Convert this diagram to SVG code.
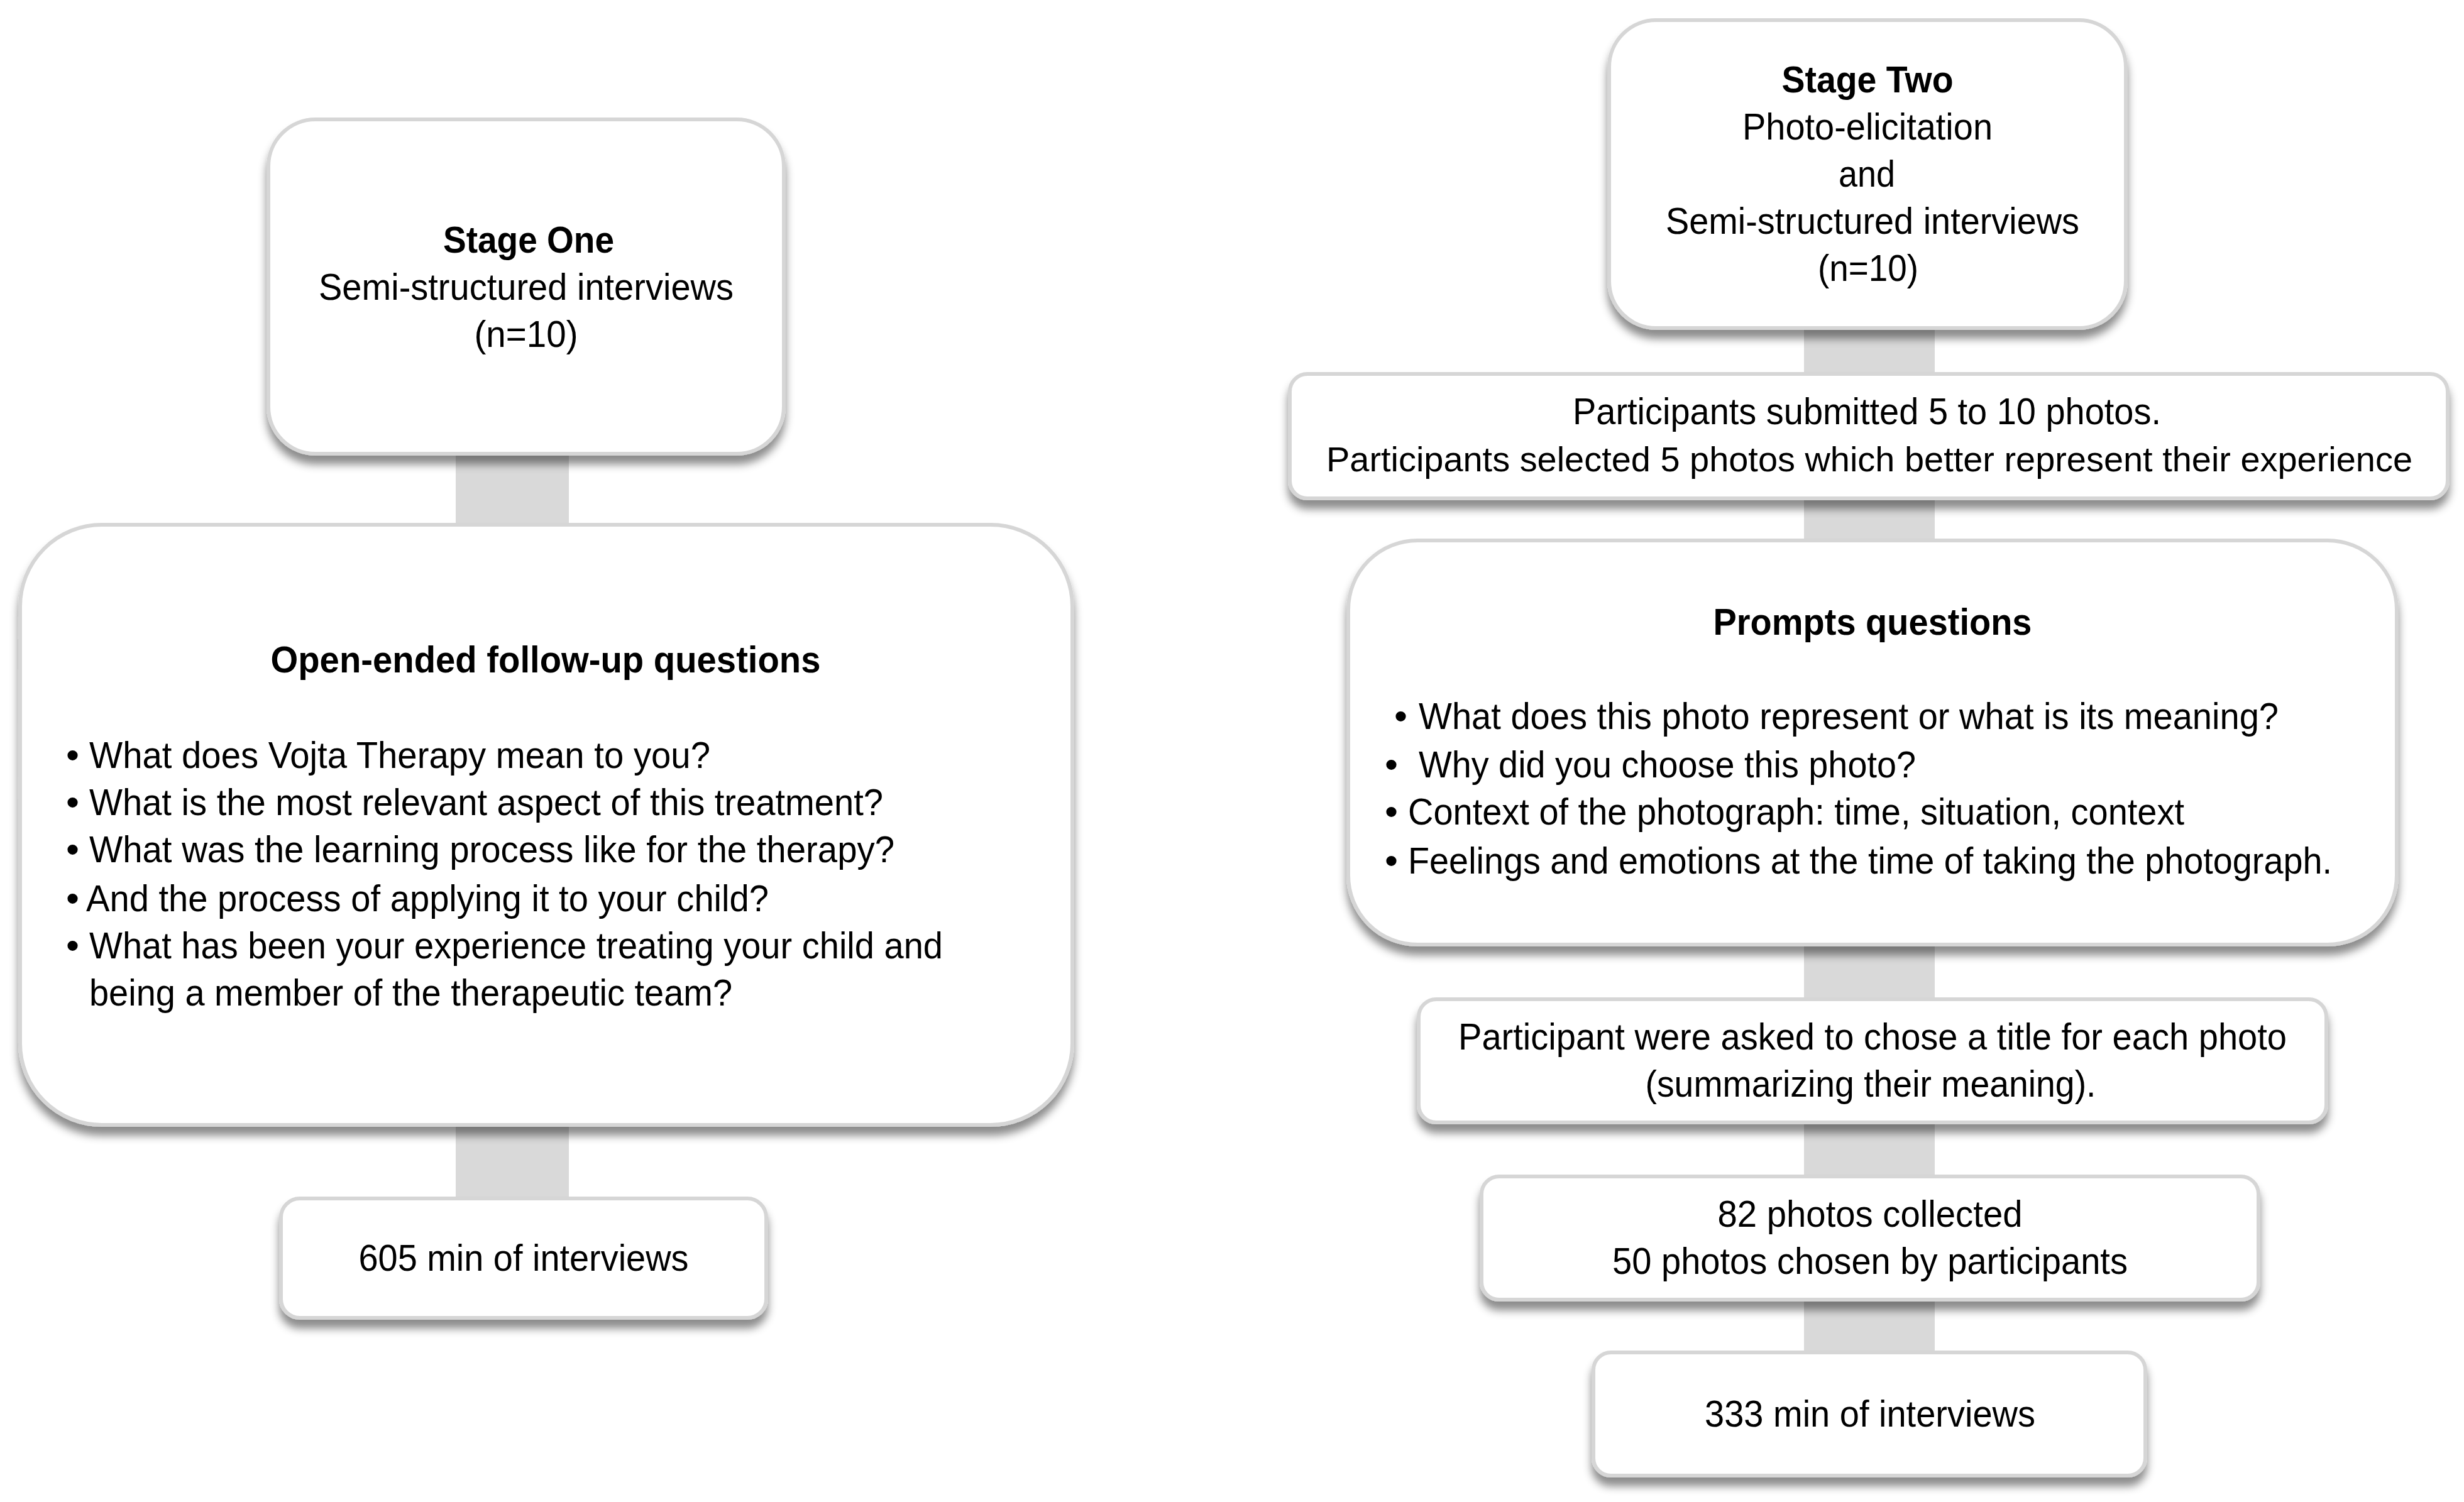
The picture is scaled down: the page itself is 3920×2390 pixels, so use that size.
<svg xmlns="http://www.w3.org/2000/svg" width="3920" height="2390" viewBox="0 0 3920 2390">
<defs>
<filter id="sh" x="-5%" y="-10%" width="110%" height="130%">
<feDropShadow dx="0" dy="14" stdDeviation="7" flood-color="#000" flood-opacity="0.45"/>
</filter>
</defs>
<style>
.box{fill:#fff;stroke:#d6d6d6;stroke-width:6;filter:url(#sh)}
.con{fill:#d9d9d9}
text{font-family:"Liberation Sans",Arial,sans-serif;font-size:60px;fill:#000}
.c{text-anchor:middle}
.b{font-weight:bold}
</style>
<rect width="3920" height="2390" fill="#fff"/>
<g id="connectors">
<rect class="con" x="725" y="700" width="180" height="160"/>
<rect class="con" x="725" y="1770" width="180" height="160"/>
<rect class="con" x="2870" y="500" width="208" height="120"/>
<rect class="con" x="2870" y="770" width="208" height="110"/>
<rect class="con" x="2870" y="1480" width="208" height="130"/>
<rect class="con" x="2870" y="1770" width="208" height="120"/>
<rect class="con" x="2870" y="2050" width="208" height="120"/>
</g>
<g id="stage-one">
<rect class="box" x="427" y="190" width="820" height="532" rx="75"/>
<text class="c b" x="841" y="402" textLength="272" lengthAdjust="spacingAndGlyphs">Stage One</text>
<text class="c" x="837" y="477" textLength="660" lengthAdjust="spacingAndGlyphs">Semi-structured interviews</text>
<text class="c" x="837" y="552" textLength="165" lengthAdjust="spacingAndGlyphs">(n=10)</text>
</g>
<g id="open-ended">
<rect class="box" x="32" y="835" width="1674" height="955" rx="130"/>
<text class="c b" x="868" y="1070" textLength="875" lengthAdjust="spacingAndGlyphs">Open-ended follow-up questions</text>
<text x="105" y="1222">•</text><text x="142" y="1222" textLength="988" lengthAdjust="spacingAndGlyphs">What does Vojta Therapy mean to you?</text>
<text x="105" y="1297">•</text><text x="142" y="1297" textLength="1263" lengthAdjust="spacingAndGlyphs">What is the most relevant aspect of this treatment?</text>
<text x="105" y="1372">•</text><text x="142" y="1372" textLength="1281" lengthAdjust="spacingAndGlyphs">What was the learning process like for the therapy?</text>
<text x="105" y="1450">•</text><text x="137" y="1450" textLength="1086" lengthAdjust="spacingAndGlyphs">And the process of applying it to your child?</text>
<text x="105" y="1525">•</text><text x="142" y="1525" textLength="1358" lengthAdjust="spacingAndGlyphs">What has been your experience treating your child and</text>
<text x="142" y="1600" textLength="1023" lengthAdjust="spacingAndGlyphs">being a member of the therapeutic team?</text>
</g>
<g id="min-605">
<rect class="box" x="447" y="1907" width="772" height="190" rx="30"/>
<text class="c" x="833" y="2022" textLength="525" lengthAdjust="spacingAndGlyphs">605 min of interviews</text>
</g>
<g id="stage-two">
<rect class="box" x="2560" y="32" width="822" height="490" rx="75"/>
<text class="c b" x="2971" y="147" textLength="273" lengthAdjust="spacingAndGlyphs">Stage Two</text>
<text class="c" x="2971" y="222" textLength="398" lengthAdjust="spacingAndGlyphs">Photo-elicitation</text>
<text class="c" x="2970" y="297" textLength="90" lengthAdjust="spacingAndGlyphs">and</text>
<text class="c" x="2979" y="372" textLength="658" lengthAdjust="spacingAndGlyphs">Semi-structured interviews</text>
<text class="c" x="2972" y="447" textLength="160" lengthAdjust="spacingAndGlyphs">(n=10)</text>
</g>
<g id="photos-submitted">
<rect class="box" x="2052" y="595" width="1842" height="198" rx="28"/>
<text class="c" x="2970" y="675" textLength="936" lengthAdjust="spacingAndGlyphs">Participants submitted 5 to 10 photos.</text>
<text class="c" x="2974" y="750" style="font-size:55px" textLength="1728" lengthAdjust="spacingAndGlyphs">Participants selected 5 photos which better represent their experience</text>
</g>
<g id="prompts">
<rect class="box" x="2145" y="860" width="1668" height="643" rx="110"/>
<text class="c b" x="2979" y="1010" textLength="507" lengthAdjust="spacingAndGlyphs">Prompts questions</text>
<text x="2218" y="1160">•</text><text x="2257" y="1160" textLength="1368" lengthAdjust="spacingAndGlyphs">What does this photo represent or what is its meaning?</text>
<text x="2203" y="1237">•</text><text x="2257" y="1237" textLength="791" lengthAdjust="spacingAndGlyphs">Why did you choose this photo?</text>
<text x="2203" y="1312">•</text><text x="2240" y="1312" textLength="1235" lengthAdjust="spacingAndGlyphs">Context of the photograph: time, situation, context</text>
<text x="2203" y="1390">•</text><text x="2240" y="1390" textLength="1470" lengthAdjust="spacingAndGlyphs">Feelings and emotions at the time of taking the photograph.</text>
</g>
<g id="title-chosen">
<rect class="box" x="2257" y="1590" width="1444" height="196" rx="28"/>
<text class="c" x="2979" y="1670" textLength="1318" lengthAdjust="spacingAndGlyphs">Participant were asked to chose a title for each photo</text>
<text class="c" x="2976" y="1745" textLength="717" lengthAdjust="spacingAndGlyphs">(summarizing their meaning).</text>
</g>
<g id="photos-collected">
<rect class="box" x="2357" y="1872" width="1236" height="196" rx="28"/>
<text class="c" x="2975" y="1952" textLength="485" lengthAdjust="spacingAndGlyphs">82 photos collected</text>
<text class="c" x="2975" y="2027" textLength="820" lengthAdjust="spacingAndGlyphs">50 photos chosen by participants</text>
</g>
<g id="min-333">
<rect class="box" x="2535" y="2152" width="878" height="196" rx="28"/>
<text class="c" x="2975" y="2270" textLength="526" lengthAdjust="spacingAndGlyphs">333 min of interviews</text>
</g>
</svg>
